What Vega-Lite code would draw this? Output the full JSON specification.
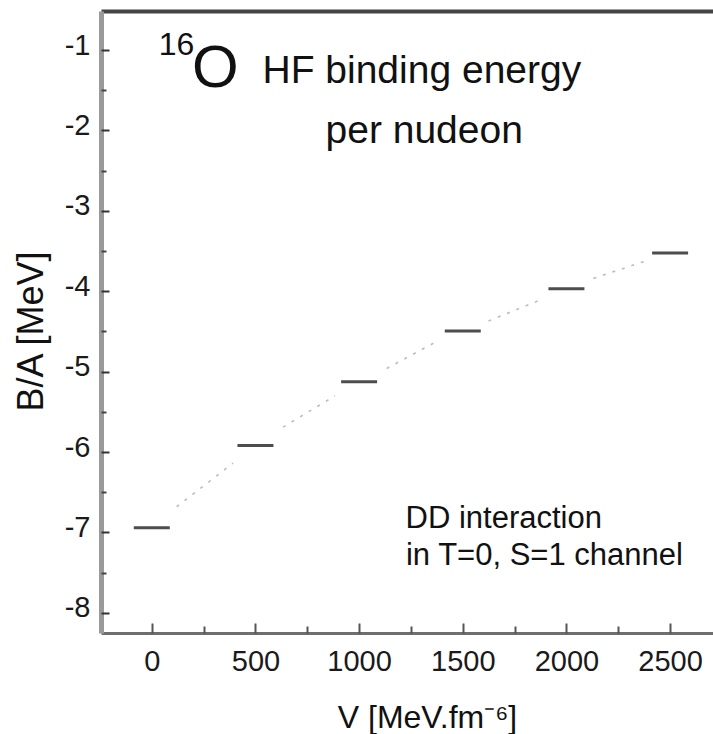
{
  "$schema": "https://vega.github.io/schema/vega-lite/v6.json",
  "width": 612,
  "height": 622,
  "autosize": {"type": "none"},
  "padding": {"left": 101, "top": 11, "right": 0, "bottom": 101},
  "background": "white",
  "config": {
    "font": "Liberation Sans",
    "view": {"stroke": null},
    "axis": {"labelFont": "Liberation Sans", "titleFont": "Liberation Sans", "titleFontWeight": "normal", "titleColor": "#111", "labelColor": "#1a1a1a", "grid": false}
  },
  "datasets": {
    "levels": [
      {"V": 0, "E": -6.94},
      {"V": 500, "E": -5.917},
      {"V": 1000, "E": -5.125},
      {"V": 1500, "E": -4.495},
      {"V": 2000, "E": -3.97},
      {"V": 2500, "E": -3.525}
    ],
    "dots": [
      {"piece": 1, "V": 120, "E": -6.68},
      {"piece": 1, "V": 392, "E": -6.137},
      {"piece": 2, "V": 633, "E": -5.69},
      {"piece": 2, "V": 884, "E": -5.30},
      {"piece": 3, "V": 1133, "E": -4.96},
      {"piece": 3, "V": 1378, "E": -4.62},
      {"piece": 4, "V": 1624, "E": -4.37},
      {"piece": 4, "V": 1873, "E": -4.11},
      {"piece": 5, "V": 2130, "E": -3.84},
      {"piece": 5, "V": 2375, "E": -3.63}
    ],
    "sup": [{"label": "16", "V": 33, "E": -1.062}],
    "big": [{"label": "O", "V": 194, "E": -1.466}],
    "heading": [
      {"label": "HF binding energy", "V": 534, "E": -1.41},
      {"label": "per nudeon", "V": 838, "E": -2.157}
    ],
    "note": [
      {"label": "DD interaction", "V": 1224, "E": -6.945},
      {"label": "in T=0, S=1 channel", "V": 1226, "E": -7.405}
    ]
  },
  "layer": [
    {
      "data": {"name": "dots"},
      "mark": {"type": "line", "strokeDash": [3, 7], "color": "#bdbdbd", "strokeWidth": 1.6, "strokeCap": "butt"},
      "encoding": {
        "x": {"field": "V", "type": "quantitative", "scale": {"domain": [-245, 2707], "nice": false, "zero": false},
          "axis": {"orient": "bottom", "values": [0, 500, 1000, 1500, 2000, 2500], "format": "d", "ticks": false, "labelFontSize": 29, "labelPadding": 14, "domainColor": "#6e6e6e", "domainWidth": 3, "title": "V [MeV.fm⁻⁶]", "titleFontSize": 32, "titleX": 326, "titleY": 94, "titleAlign": "center", "titleBaseline": "alphabetic"}},
        "y": {"field": "E", "type": "quantitative", "scale": {"domain": [-8.25, -0.515], "nice": false, "zero": false},
          "axis": {"orient": "left", "values": [-1, -2, -3, -4, -5, -6, -7, -8], "labelExpr": "'-' + format(abs(datum.value), 'd')", "ticks": false, "labelFontSize": 29, "labelPadding": 11, "labelOffset": -5, "domainColor": "#9a9a9a", "domainWidth": 5, "title": "B/A [MeV]", "titleFontSize": 36, "titleAngle": 270, "titleX": -70, "titleY": 320, "titleAlign": "center", "titleBaseline": "middle"}},
        "detail": {"field": "piece", "type": "nominal"}
      }
    },
    {
      "data": {"name": "levels"},
      "mark": {"type": "tick", "orient": "horizontal", "size": 36, "thickness": 3, "color": "#4d4d4d", "opacity": 1},
      "encoding": {
        "x": {"field": "V", "type": "quantitative",
          "axis": {"orient": "bottom", "values": [0, 500, 1000, 1500, 2000, 2500], "labels": false, "domain": false, "ticks": true, "tickSize": -10, "tickWidth": 2, "tickColor": "#555", "title": null}},
        "y": {"field": "E", "type": "quantitative",
          "axis": {"orient": "left", "values": [-1, -2, -3, -4, -5, -6, -7, -8], "labels": false, "domain": false, "ticks": true, "tickSize": -8, "tickWidth": 2, "tickColor": "#333", "title": null}}
      }
    },
    {
      "data": {"name": "sup"},
      "mark": {"type": "text", "align": "left", "baseline": "alphabetic", "fontSize": 32, "color": "#111"},
      "encoding": {
        "x": {"field": "V", "type": "quantitative",
          "axis": {"orient": "bottom", "values": [250, 750, 1250, 1750, 2250], "labels": false, "domain": false, "ticks": true, "tickSize": -7, "tickWidth": 2, "tickColor": "#555", "title": null}},
        "y": {"field": "E", "type": "quantitative",
          "axis": {"orient": "left", "values": [-1.5, -2.5, -3.5, -4.5, -5.5, -6.5, -7.5], "labels": false, "domain": false, "ticks": true, "tickSize": -5, "tickWidth": 2, "tickColor": "#444", "title": null}},
        "text": {"field": "label"}
      }
    },
    {
      "data": {"name": "big"},
      "mark": {"type": "text", "align": "left", "baseline": "alphabetic", "fontSize": 60, "color": "#111"},
      "encoding": {
        "x": {"field": "V", "type": "quantitative",
          "axis": {"orient": "top", "domain": true, "domainColor": "#444", "domainWidth": 4, "ticks": false, "labels": false, "title": null}},
        "y": {"field": "E", "type": "quantitative", "axis": null},
        "text": {"field": "label"}
      }
    },
    {
      "data": {"name": "heading"},
      "mark": {"type": "text", "align": "left", "baseline": "alphabetic", "fontSize": 39, "color": "#111"},
      "encoding": {
        "x": {"field": "V", "type": "quantitative", "axis": null},
        "y": {"field": "E", "type": "quantitative", "axis": null},
        "text": {"field": "label"}
      }
    },
    {
      "data": {"name": "note"},
      "mark": {"type": "text", "align": "left", "baseline": "alphabetic", "fontSize": 31, "color": "#111"},
      "encoding": {
        "x": {"field": "V", "type": "quantitative", "axis": null},
        "y": {"field": "E", "type": "quantitative", "axis": null},
        "text": {"field": "label"}
      }
    }
  ],
  "resolve": {"axis": {"x": "independent", "y": "independent"}}
}
